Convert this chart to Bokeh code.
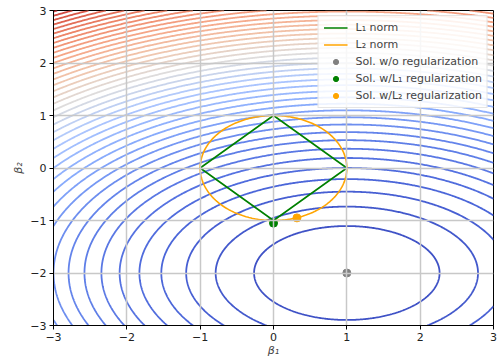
import numpy as np
from bokeh.plotting import figure
from bokeh.models import Range1d, Legend, LegendItem, FixedTicker
from bokeh.embed import file_html
from bokeh.resources import INLINE

# Quadratic loss centred on the unregularized solution
CENTER = (1.0, -2.0)
WEIGHT_B1 = 1.0
WEIGHT_B2 = 2.0
LEVEL_STEP = 1.6
N_LEVELS = 47
COLOR_VMAX = 70.0

# Constraint balls and solutions
L1_RADIUS = 1.0
L2_RADIUS = 1.0
sol_ols = (1.0, -2.0)
sol_l1 = (0.0, -1.05)
sol_l2 = (0.32, -0.95)

TICKS = [-3, -2, -1, 0, 1, 2, 3]

# coolwarm colormap anchors
CW_POS = [0.0, 0.1, 0.2, 0.3, 0.4, 0.5, 0.6, 0.7, 0.8, 0.9, 1.0]
CW_RGB = [(59, 76, 192), (77, 104, 219), (98, 130, 234), (137, 172, 253),
          (174, 199, 254), (221, 221, 221), (240, 198, 173), (246, 168, 137),
          (237, 133, 104), (215, 84, 68), (180, 4, 38)]


def coolwarm(t):
    t = min(max(t, 0.0), 1.0)
    r = np.interp(t, CW_POS, [c[0] for c in CW_RGB])
    g = np.interp(t, CW_POS, [c[1] for c in CW_RGB])
    b = np.interp(t, CW_POS, [c[2] for c in CW_RGB])
    return "#%02x%02x%02x" % (int(round(r)), int(round(g)), int(round(b)))


gx = np.linspace(-3, 3, 400)
gy = np.linspace(-3, 3, 400)
X, Y = np.meshgrid(gx, gy)
Z = WEIGHT_B1 * (X - CENTER[0]) ** 2 + WEIGHT_B2 * (Y - CENTER[1]) ** 2

levels = LEVEL_STEP * np.arange(1, N_LEVELS + 1)
level_colors = [coolwarm(lv / COLOR_VMAX) for lv in levels]

p = figure(width=501, height=359, output_backend="svg", toolbar_location=None,
           x_range=Range1d(-3, 3), y_range=Range1d(-3, 3),
           min_border_left=53, min_border_right=8, min_border_top=10,
           min_border_bottom=33)
p.background_fill_color = "white"
p.outline_line_color = "black"
p.outline_line_width = 1

p.contour(gx, gy, Z, levels, line_color=level_colors, line_width=1.8,
          fill_color=None)

# L1 ball (diamond) and L2 ball (circle)
l1_x = [L1_RADIUS, 0, -L1_RADIUS, 0, L1_RADIUS]
l1_y = [0, L1_RADIUS, 0, -L1_RADIUS, 0]
r_l1 = p.line(l1_x, l1_y, line_color="green", line_width=1.6)
theta = np.linspace(0, 2 * np.pi, 300)
r_l2 = p.line(L2_RADIUS * np.cos(theta), L2_RADIUS * np.sin(theta),
              line_color="orange", line_width=1.6)

r_ols = p.scatter([sol_ols[0]], [sol_ols[1]], size=8, color="gray")
r_s1 = p.scatter([sol_l1[0]], [sol_l1[1]], size=8, color="green")
r_s2 = p.scatter([sol_l2[0]], [sol_l2[1]], size=8, color="orange")

for ax in (p.xaxis, p.yaxis):
    ax.ticker = FixedTicker(ticks=TICKS)
    ax.major_label_overrides = {t: ("\u2212%d" % -t if t < 0 else str(t)) for t in TICKS}
    ax.major_label_text_font = "DejaVu Sans"
    ax.major_label_text_font_size = "11px"
    ax.major_label_text_color = "#222222"
    ax.major_tick_in = 0
    ax.major_tick_out = 4
    ax.minor_tick_out = 0
    ax.minor_tick_in = 0
    ax.axis_line_color = "black"
    ax.major_tick_line_color = "black"
    ax.axis_label_text_font = "DejaVu Sans"
    ax.axis_label_text_font_size = "11px"
    ax.axis_label_text_font_style = "italic"
    ax.major_label_standoff = 3
    ax.axis_label_standoff = 2

p.xaxis.axis_label = "\u03b2\u2081"
p.yaxis.axis_label = "\u03b2\u2082"
p.xaxis.axis_label_standoff = 0

p.grid.grid_line_color = "#c8c8c8"
p.grid.grid_line_width = 1.5
p.grid.level = "glyph"

legend = Legend(items=[
    LegendItem(label="L\u2081 norm", renderers=[r_l1]),
    LegendItem(label="L\u2082 norm", renderers=[r_l2]),
    LegendItem(label="Sol. w/o regularization", renderers=[r_ols]),
    LegendItem(label="Sol. w/L\u2081 regularization", renderers=[r_s1]),
    LegendItem(label="Sol. w/L\u2082 regularization", renderers=[r_s2]),
], location="top_right")
legend.label_text_font = "DejaVu Sans"
legend.label_text_font_size = "11px"
legend.label_height = 13
legend.glyph_height = 13
legend.glyph_width = 24
legend.spacing = 4
legend.padding = 5
legend.margin = 5
legend.label_standoff = 8
legend.border_line_color = "#cccccc"
legend.background_fill_alpha = 0.85
p.add_layout(legend)

open("out.html", "w").write(file_html(p, INLINE))
